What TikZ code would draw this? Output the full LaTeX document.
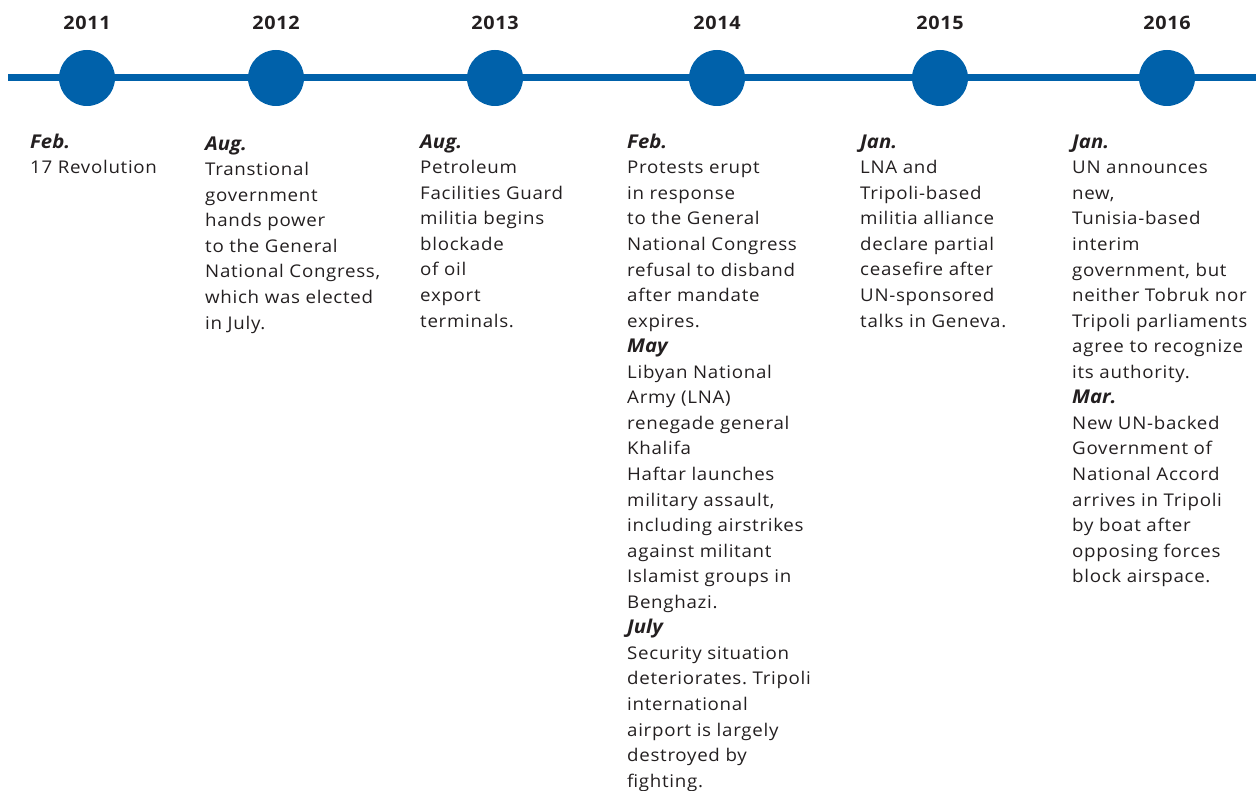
\documentclass[tikz,border=0pt]{standalone}
\usepackage{fontspec}
\setmainfont[FakeStretch=1.07,LetterSpace=4]{Open Sans}
\newfontfamily\monfam[FakeStretch=1.07]{Open Sans}
\frenchspacing
\definecolor{tlblue}{HTML}{0061AA}
\definecolor{txt}{HTML}{231F20}
\newcommand{\mon}[1]{{\monfam\fontsize{19}{25.56}\selectfont\bfseries\itshape #1}}
\newcommand{\hs}{\rule{0pt}{20pt}}
\begin{document}
\begin{tikzpicture}[x=1pt,y=-1pt,
  yearlbl/.style={font=\fontsize{18.5}{22}\selectfont\bfseries, text=txt, anchor=base, inner sep=0},
  dot/.style={circle, fill=tlblue, minimum size=56pt, inner sep=0},
  col/.style={anchor=north west, inner sep=0, align=left, text=txt,
    font=\fontsize{17.5}{25.56}\selectfont\frenchspacing}]
\useasboundingbox (0,0) rectangle (1256,791);
\coordinate (ls) at (8,78);
\coordinate (le) at (1256,78);
\draw[tlblue, line width=7pt] (ls) -- (le);
\foreach \n/\x/\yr in {a/87/2011, b/276/2012, c/495/2013, d/717/2014, e/940/2015, f/1167/2016}{
  \node[dot] (d\n) at (\x,78) {};
  \node[yearlbl] (y\n) at (\x,29.5) {\yr};
}
\node[col] (ta) at (30,128) {\hs\mon{Feb.}\\17 Revolution};
\node[col] (tb) at (205,130) {\hs\mon{Aug.}\\Transtional\\government\\hands power\\to the General\\National Congress,\\which was elected\\in July.};
\node[col] (tc) at (420,128) {\hs\mon{Aug.}\\Petroleum\\Facilities Guard\\militia begins\\blockade\\of oil\\export\\terminals.};
\node[col] (td) at (627,128) {\hs\mon{Feb.}\\Protests erupt\\in response\\to the General\\National Congress\\refusal to disband\\after mandate\\expires.\\\mon{May}\\Libyan National\\Army (LNA)\\renegade general\\Khalifa\\Haftar launches\\military assault,\\including airstrikes\\against militant\\Islamist groups in\\Benghazi.\\\mon{July}\\Security situation\\deteriorates. Tripoli\\international\\airport is largely\\destroyed by\\fighting.};
\node[col] (te) at (860,128) {\hs\mon{Jan.}\\LNA and\\Tripoli-based\\militia alliance\\declare partial\\ceasefire after\\UN-sponsored\\talks in Geneva.};
\node[col] (tf) at (1072,128) {\hs\mon{Jan.}\\UN announces\\new,\\Tunisia-based\\interim\\government, but\\neither Tobruk nor\\Tripoli parliaments\\agree to recognize\\its authority.\\\mon{Mar.}\\New UN-backed\\Government of\\National Accord\\arrives in Tripoli\\by boat after\\opposing forces\\block airspace.};
\end{tikzpicture}
\end{document}
